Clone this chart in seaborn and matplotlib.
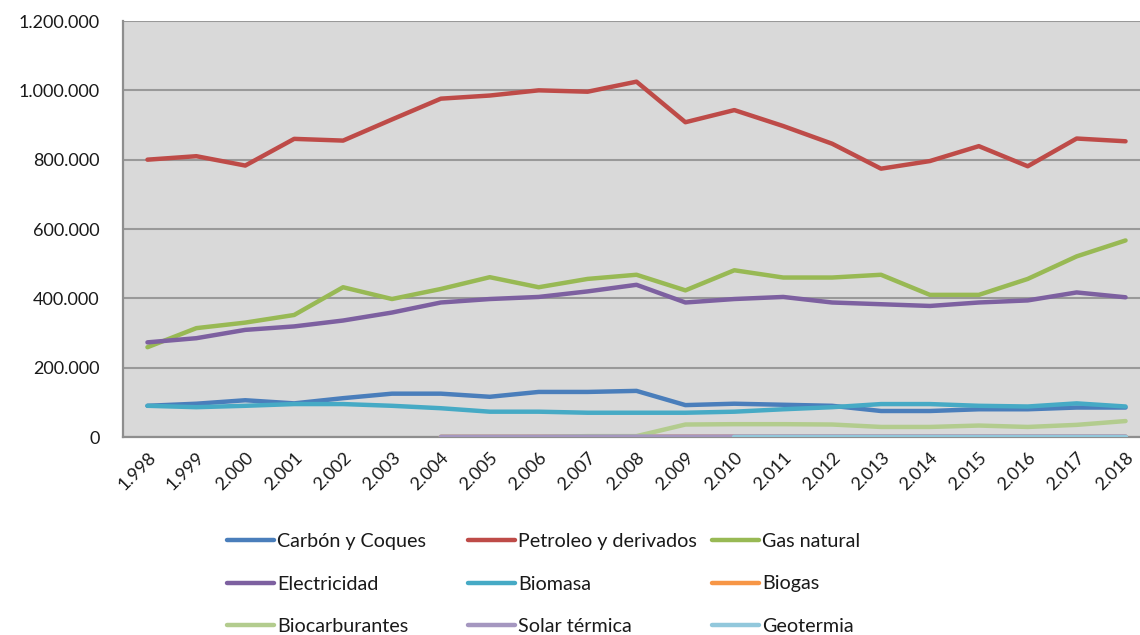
import matplotlib
matplotlib.use("Agg")
import matplotlib.pyplot as plt
from matplotlib.ticker import FuncFormatter, MultipleLocator
from matplotlib.lines import Line2D
import seaborn as sns
import pandas as pd
import numpy as np

# Consumo por fuente, 1998-2018
years = [1998, 1999, 2000, 2001, 2002, 2003, 2004, 2005, 2006, 2007, 2008,
         2009, 2010, 2011, 2012, 2013, 2014, 2015, 2016, 2017, 2018]

carbon = [90000, 96000, 106000, 97000, 112000, 125000, 125000, 116000, 130000, 130000, 133000,
          92000, 96000, 93000, 90000, 75000, 75000, 80000, 80000, 85000, 85000]
petroleo = [800000, 810000, 783000, 860000, 855000, 916000, 976000, 985000, 1000000, 996000, 1025000,
            908000, 943000, 897000, 846000, 774000, 796000, 839000, 781000, 861000, 853000]
gas_natural = [259000, 314000, 330000, 352000, 432000, 398000, 427000, 461000, 432000, 456000, 468000,
               423000, 481000, 460000, 460000, 468000, 410000, 410000, 456000, 521000, 567000]
electricidad = [273000, 285000, 309000, 319000, 336000, 359000, 388000, 398000, 404000, 420000, 439000,
                388000, 398000, 404000, 388000, 383000, 378000, 388000, 394000, 417000, 403000]
biomasa = [90000, 86000, 90000, 95000, 95000, 90000, 83000, 73000, 73000, 70000, 70000,
           70000, 73000, 80000, 86000, 95000, 95000, 90000, 88000, 97000, 88000]
biogas = [np.nan, np.nan, np.nan, np.nan, np.nan, np.nan, 500, 600, 700, 800, 900,
          1000, 1000, 1000, 1000, 1000, 1000, 1000, 1000, 1000, 1000]
biocarburantes = [np.nan, np.nan, np.nan, np.nan, np.nan, np.nan, 0, 0, 0, 2500, 2500,
                  36000, 37000, 37000, 36000, 29000, 29000, 33000, 29000, 35000, 46000]
solar_termica = [np.nan, np.nan, np.nan, np.nan, np.nan, np.nan, 800, 900, 1000, 1100, 1200,
                 1300, 1400, 1500, 1500, 1500, 1500, 1500, 1500, 1500, 1500]
geotermia = [np.nan, np.nan, np.nan, np.nan, np.nan, np.nan, np.nan, np.nan, np.nan, np.nan, np.nan,
             np.nan, 300, 300, 300, 300, 300, 300, 300, 300, 300]

series_names = ["Carbón y Coques", "Petroleo y derivados", "Gas natural",
                "Electricidad", "Biomasa", "Biogas",
                "Biocarburantes", "Solar térmica", "Geotermia"]
series_values = [carbon, petroleo, gas_natural, electricidad, biomasa, biogas,
                 biocarburantes, solar_termica, geotermia]
colors = ["#4A7EBB", "#BE4B48", "#98B954", "#7D60A0", "#46AAC5", "#F79646",
          "#B3CC8E", "#A597C0", "#92C8DC"]

df = pd.concat([pd.DataFrame({"year": years, "valor": vals, "fuente": name})
                for name, vals in zip(series_names, series_values)],
               ignore_index=True)
df["pos"] = df["year"] - years[0]

sns.set_style("white")
plt.rcParams["font.family"] = ["Lato", "DejaVu Sans"]

fig = plt.figure(figsize=(11.4, 6.35), dpi=100)
ax = fig.add_axes([123 / 1140, 1 - 437 / 635, (1150 - 123) / 1140, (437 - 21) / 635])
ax.set_facecolor("#D9D9D9")

sns.lineplot(data=df, x="pos", y="valor", hue="fuente", hue_order=series_names,
             palette=dict(zip(series_names, colors)), linewidth=3.2,
             solid_capstyle="round", solid_joinstyle="round",
             legend=False, ax=ax)

ax.set_xlim(-0.5, len(years) - 0.5)
ax.set_ylim(0, 1200000)
ax.yaxis.set_major_locator(MultipleLocator(200000))
ax.yaxis.set_major_formatter(FuncFormatter(lambda v, p: f"{int(v):,}".replace(",", ".")))
ax.set_xticks(range(len(years)))
ax.set_xticklabels([f"{y:,}".replace(",", ".") for y in years],
                   rotation=45, ha="right", rotation_mode="anchor")
ax.tick_params(axis="both", length=0, labelsize=13, colors="#1A1A1A")
ax.tick_params(axis="y", pad=17)
ax.tick_params(axis="x", pad=9)
ax.set_xlabel("")
ax.set_ylabel("")

ax.grid(True, axis="y", color="#999999", linewidth=1.5)
ax.grid(False, axis="x")
ax.set_axisbelow(True)
for side in ["top", "right"]:
    ax.spines[side].set_visible(False)
for side in ["left", "bottom"]:
    ax.spines[side].set_color("#8E8E8E")
    ax.spines[side].set_linewidth(1.6)
    ax.spines[side].set_zorder(0.6)

# legend: three fixed columns, rows in series order
col_x = [227 / 1140, 468 / 1140, 712 / 1140]
for c in range(3):
    handles, labels = [], []
    for r in range(3):
        i = r * 3 + c
        handles.append(Line2D([0], [0], color=colors[i], linewidth=3.2,
                              solid_capstyle="round"))
        labels.append(series_names[i])
    fig.legend(handles, labels, loc="center left", bbox_to_anchor=(col_x[c], 1 - 584 / 635),
               frameon=False, fontsize=14.2, handlelength=2.4, handletextpad=0.15,
               labelspacing=1.3, borderpad=0, borderaxespad=0, labelcolor="#1A1A1A")

fig.savefig("out.png", dpi=100, facecolor="white")
